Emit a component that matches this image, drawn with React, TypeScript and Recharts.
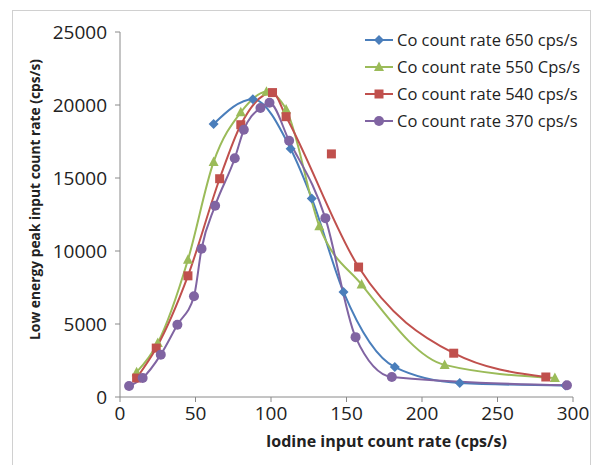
import React from 'react';
import { ComposedChart, Line, Scatter, XAxis, YAxis, Label } from 'recharts';

// Iodine input count rate (x) vs low energy peak input count rate (y)
const co650X = [62, 88, 113, 127, 148, 182, 225, 295];
const co650Y = [18700, 20400, 17000, 13600, 7200, 2050, 960, 780];

const co550X = [11, 25, 45, 62, 80, 97, 110, 132, 160, 215, 288];
const co550Y = [1700, 3700, 9400, 16100, 19500, 20900, 19700, 11700, 7700, 2200, 1300];

const co540X = [11, 24, 45, 66, 80, 101, 110, 158, 221, 282];
const co540Y = [1300, 3350, 8300, 14950, 18650, 20850, 19200, 8900, 3000, 1370];
const co540OutlierX = [140];
const co540OutlierY = [16650];

const co370X = [6, 15, 27, 38, 49, 54, 63, 76, 82, 93, 99, 112, 136, 156, 180, 296];
const co370Y = [750, 1300, 2900, 4950, 6900, 10150, 13100, 16350, 18300, 19800, 20150, 17550, 12250, 4100, 1370, 800];

const xTicks = [0, 50, 100, 150, 200, 250, 300];
const yTicks = [0, 5000, 10000, 15000, 20000, 25000];

const seriesNames = [
  'Co count rate 650 cps/s',
  'Co count rate 550 Cps/s',
  'Co count rate 540 cps/s',
  'Co count rate 370 cps/s',
];
const colors = ['#4A7EBB', '#9BBB59', '#C0504D', '#8064A2'];
const shapes = ['diamond', 'triangle', 'square', 'circle'];

const toPoints = (xs: number[], ys: number[]) => xs.map((x, i) => ({ x, y: ys[i] }));

const FONT = '"Open Sans", "DejaVu Sans", sans-serif';

function Marker({ cx, cy, shape, color }: { cx: number; cy: number; shape: string; color: string }) {
  if (cx == null || cy == null) return null;
  if (shape === 'diamond') {
    return <path d={`M${cx},${cy - 5}L${cx + 5},${cy}L${cx},${cy + 5}L${cx - 5},${cy}Z`} fill={color} />;
  }
  if (shape === 'triangle') {
    return <path d={`M${cx},${cy - 5.5}L${cx + 5},${cy + 4}L${cx - 5},${cy + 4}Z`} fill={color} />;
  }
  if (shape === 'square') {
    return <rect x={cx - 4.5} y={cy - 4.5} width={9} height={9} fill={color} />;
  }
  return <circle cx={cx} cy={cy} r={5} fill={color} />;
}

const makeDot = (idx: number) => (props: any) => (
  <Marker key={`d-${idx}-${props.index}`} cx={props.cx} cy={props.cy} shape={shapes[idx]} color={colors[idx]} />
);

function LegendBox() {
  return (
    <div style={{ position: 'absolute', left: 364, top: 26, fontFamily: FONT, fontSize: 16.5, color: '#222' }}>
      {seriesNames.map((name, i) => (
        <div key={name} style={{ display: 'flex', alignItems: 'center', height: 27 }}>
          <svg width={30} height={12} style={{ marginRight: 3 }}>
            <line x1={1} y1={6} x2={29} y2={6} stroke={colors[i]} strokeWidth={2} />
            <Marker cx={15} cy={6} shape={shapes[i]} color={colors[i]} />
          </svg>
          <span>{name}</span>
        </div>
      ))}
    </div>
  );
}

export default function App() {
  const series = [
    toPoints(co650X, co650Y),
    toPoints(co550X, co550Y),
    toPoints(co540X, co540Y),
    toPoints(co370X, co370Y),
  ];
  const outlier = toPoints(co540OutlierX, co540OutlierY);

  return (
    <div style={{ position: 'absolute', left: 0, top: 0, width: 602, height: 465, background: '#fff', overflow: 'hidden' }}>
      <div style={{ position: 'absolute', left: 12, top: 10, width: 577, height: 470, border: '1px solid #d0d0d0' }} />
      <ComposedChart
        width={602}
        height={465}
        margin={{ top: 32, right: 29, bottom: 28, left: 58 }}
        style={{ position: 'absolute', left: 0, top: 0 }}
      >
        <XAxis
          type="number"
          dataKey="x"
          domain={[0, 300]}
          ticks={xTicks}
          allowDataOverflow
          axisLine={{ stroke: '#8a8a8a' }}
          tickLine={{ stroke: '#8a8a8a' }}
          tickSize={5}
          tickMargin={5}
          tick={{ fill: '#222', fontSize: 19, fontFamily: FONT }}
          height={40}
        >
          <Label
            content={({ viewBox }: any) => (
              <text
                x={viewBox.x + viewBox.width / 2 + 40}
                y={443}
                textAnchor="middle"
                dominantBaseline="middle"
                fontFamily={FONT}
                fontWeight="bold"
                fontSize={16}
                fill="#222"
              >
                Iodine input count rate (cps/s)
              </text>
            )}
          />
        </XAxis>
        <YAxis
          type="number"
          dataKey="y"
          domain={[0, 25000]}
          ticks={yTicks}
          allowDataOverflow
          axisLine={{ stroke: '#8a8a8a' }}
          tickLine={{ stroke: '#8a8a8a' }}
          tickSize={5}
          tickMargin={8}
          tick={{ fill: '#222', fontSize: 19, fontFamily: FONT }}
          width={62}
        >
          <Label
            content={({ viewBox }: any) => {
              const cy = viewBox.y + viewBox.height / 2 - 15;
              return (
                <text
                  x={36}
                  y={cy}
                  transform={`rotate(-90, 36, ${cy})`}
                  textAnchor="middle"
                  dominantBaseline="middle"
                  fontFamily={FONT}
                  fontWeight="bold"
                  fontSize={13.8}
                  fill="#222"
                >
                  Low energy peak input count rate (cps/s)
                </text>
              );
            }}
          />
        </YAxis>
        {series.map((data, i) => (
          <Line
            key={seriesNames[i]}
            data={data}
            dataKey="y"
            type="monotone"
            stroke={colors[i]}
            strokeWidth={2}
            dot={makeDot(i)}
            activeDot={false}
            isAnimationActive={false}
          />
        ))}
        <Scatter
          data={outlier}
          dataKey="y"
          fill={colors[2]}
          shape={(p: any) => <Marker cx={p.cx} cy={p.cy} shape="square" color={colors[2]} />}
          isAnimationActive={false}
        />
      </ComposedChart>
      <LegendBox />
    </div>
  );
}
